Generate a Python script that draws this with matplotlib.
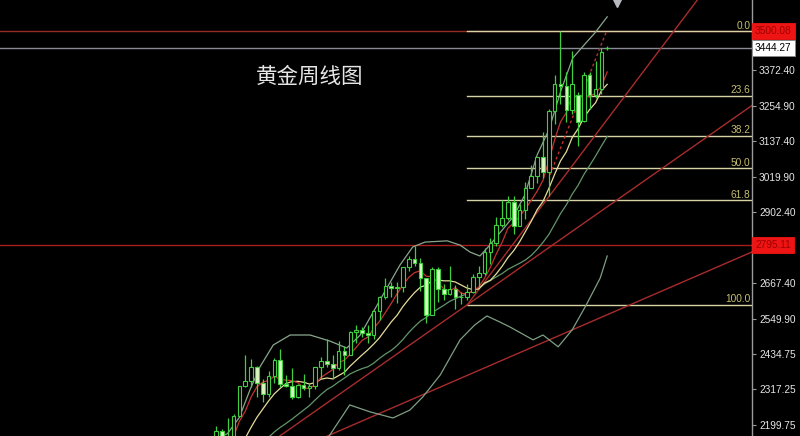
import matplotlib
matplotlib.use('Agg')
import matplotlib.pyplot as plt
import matplotlib.transforms as mtransforms

plt.rcParams['font.family'] = ['Liberation Sans', 'DejaVu Sans']

# weekly gold candles, week of 2024-03-04 .. week of 2025-06-16
opens = [2083, 2179, 2155, 2165, 2230, 2329, 2344, 2391, 2337, 2302,
         2360, 2415, 2334, 2327, 2293, 2333, 2321, 2327, 2391, 2411,
         2400, 2387, 2443, 2431, 2507, 2512, 2503, 2497, 2577, 2621,
         2658, 2653, 2657, 2721, 2747, 2736, 2685, 2564, 2716, 2650,
         2633, 2648, 2622, 2621, 2640, 2690, 2703, 2770, 2800, 2861,
         2882, 2936, 2858, 2910, 2984, 3023, 3084, 3037, 3237, 3327,
         3319, 3240, 3290, 3205, 3357, 3289, 3310, 3444]
highs = [2195, 2185, 2222, 2236, 2330, 2431, 2418, 2393, 2353, 2378,
         2422, 2450, 2364, 2387, 2335, 2368, 2339, 2392, 2424, 2483,
         2432, 2477, 2462, 2509, 2531, 2525, 2529, 2581, 2625, 2685,
         2673, 2672, 2721, 2758, 2790, 2750, 2685, 2721, 2721, 2665,
         2726, 2663, 2639, 2665, 2697, 2725, 2786, 2817, 2886, 2942,
         2955, 2956, 2930, 3004, 3057, 3086, 3167, 3245, 3357, 3500,
         3367, 3435, 3300, 3366, 3366, 3403, 3446, 3452]
lows = [2080, 2146, 2146, 2163, 2228, 2326, 2324, 2291, 2277, 2291,
        2340, 2325, 2325, 2286, 2289, 2316, 2293, 2319, 2353, 2392,
        2353, 2382, 2364, 2431, 2470, 2491, 2472, 2485, 2547, 2615,
        2624, 2604, 2640, 2708, 2725, 2643, 2536, 2564, 2605, 2613,
        2630, 2583, 2600, 2614, 2635, 2657, 2695, 2730, 2790, 2853,
        2877, 2832, 2857, 2880, 2982, 3000, 3015, 2957, 3194, 3260,
        3202, 3228, 3120, 3200, 3245, 3280, 3293, 3440]
closes = [2179, 2155, 2165, 2230, 2329, 2344, 2391, 2337, 2302, 2360,
          2415, 2334, 2327, 2293, 2333, 2321, 2327, 2391, 2411, 2400,
          2387, 2443, 2431, 2507, 2512, 2503, 2497, 2577, 2621, 2658,
          2653, 2657, 2721, 2747, 2736, 2685, 2564, 2716, 2650, 2633,
          2648, 2622, 2621, 2640, 2690, 2703, 2770, 2800, 2861, 2882,
          2936, 2858, 2910, 2984, 3023, 3084, 3037, 3237, 3327, 3319,
          3240, 3325, 3202, 3357, 3289, 3310, 3432, 3444]

# moving averages
ma5 = [2067, 2093, 2123, 2162, 2212, 2245, 2292, 2326, 2341, 2347,
       2361, 2350, 2348, 2346, 2340, 2322, 2320, 2333, 2357, 2370,
       2383, 2406, 2414, 2434, 2456, 2479, 2490, 2519, 2542, 2571,
       2601, 2633, 2662, 2687, 2703, 2709, 2691, 2690, 2670, 2650,
       2642, 2654, 2635, 2633, 2644, 2655, 2685, 2721, 2765, 2803,
       2850, 2867, 2889, 2914, 2942, 2972, 3008, 3073, 3142, 3201,
       3232, 3290, 3283, 3289, 3283, 3297, 3318, 3366]
ma10 = [2051, 2062, 2074, 2094, 2125, 2156, 2192, 2225, 2252, 2279,
        2303, 2321, 2337, 2343, 2344, 2341, 2335, 2340, 2351, 2355,
        2352, 2363, 2374, 2395, 2413, 2431, 2448, 2467, 2488, 2514,
        2540, 2562, 2591, 2615, 2637, 2655, 2662, 2676, 2679, 2676,
        2676, 2672, 2662, 2652, 2647, 2649, 2669, 2678, 2699, 2724,
        2753, 2776, 2805, 2839, 2873, 2911, 2938, 2981, 3028, 3072,
        3102, 3149, 3178, 3215, 3242, 3264, 3304, 3325]
ma20_start = 5
ma20 = [2097, 2113, 2130, 2144, 2159,
        2177, 2192, 2205, 2219, 2234, 2249, 2264, 2283, 2301, 2317,
        2328, 2342, 2355, 2369, 2378, 2386, 2392, 2404, 2420, 2434,
        2446, 2462, 2482, 2505, 2525, 2543, 2555, 2571, 2583, 2595,
        2608, 2617, 2626, 2633, 2642, 2652, 2666, 2677, 2689, 2700,
        2714, 2724, 2734, 2745, 2760, 2780, 2803, 2829, 2863, 2898,
        2927, 2962, 2991, 3027, 3057, 3088, 3121, 3153]

# bollinger bands (bar index, price)
bb_up_x = [0, 2, 4, 5.8, 7.5, 9.8, 12.7, 16.1, 19.5, 22.4, 24.7, 28.1, 31.5,
           33.7, 35.8, 39.6, 41.8, 43.5, 45.2, 46.9, 48.6, 51.0, 52.9, 55.0,
           57.0, 59.1, 61.1, 63.5, 64.9, 67.0]
bb_up = [2150, 2172, 2225, 2315, 2391, 2464, 2497, 2497, 2477, 2454, 2497,
         2613, 2728, 2788, 2804, 2808, 2794, 2771, 2758, 2794, 2834, 2890,
         2960, 3092, 3174, 3306, 3412, 3465, 3495, 3548]
bb_lo_x = [16.9, 19.5, 22.9, 26.4, 30.3, 33.2, 35.4, 38.4, 41.8, 44.3, 46.4,
           48.6, 50.3, 54.3, 56.0, 58.6, 61.0, 63.4, 65.8, 67.0]
bb_lo = [2084, 2167, 2266, 2243, 2223, 2249, 2292, 2365, 2481, 2530, 2560,
         2540, 2524, 2481, 2497, 2458, 2514, 2596, 2685, 2758]

# drawn trend lines (bar index, price)
trend_x = [[10, 92], [17, 92], [43, 83]]
trend_p = [[2151, 3258], [2146, 2773], [2596, 3618]]
dotted_x = [57.2, 66.95]
dotted_p = [3026, 3504]

# horizontal levels
level_top = 3500.08
level_mid = 2795.11
bid = 3444.27

# fibonacci retracement
fib_start = 43
fib_low = 2596
fib_high = 3500.08
fib_ratios = [0.0, 23.6, 38.2, 50.0, 61.8, 100.0]

ytick_vals = [3372.40, 3254.90, 3137.40, 3019.90, 2902.40,
              2667.40, 2549.90, 2434.75, 2317.25, 2199.75]

BG = '#000000'
GREEN = '#3fcf3f'
BEAR_FILL = '#d9f5c2'

fig = plt.figure(figsize=(8, 4.36), dpi=100, facecolor=BG)
ax = fig.add_axes([0, 0, 752 / 800, 1])
ax.set_facecolor(BG)
x_lo, x_hi = -37, 91.8
ax.set_xlim(x_lo, x_hi)
ax.set_ylim(2163.4, 3603.6)

# horizontal lines
ax.axhline(level_top, color='#962c24', lw=1.0, zorder=1)
ax.axhline(level_mid, color='#a81e1e', lw=1.0, zorder=1)
ax.axhline(bid, color='#8a8a96', lw=1.0, zorder=1)

# fibonacci levels
for r in fib_ratios:
    lvl = fib_high - r / 100.0 * (fib_high - fib_low)
    ax.plot([fib_start, x_hi], [lvl, lvl], color='#d8d3a6', lw=1.0, zorder=1)
    ax.text(x_hi - 0.3, lvl + 2, f'{r:.1f}', color='#c8bf6e', fontsize=7.3,
            ha='right', va='bottom', zorder=6)

# trend lines
for xs, ps in zip(trend_x, trend_p):
    ax.plot(xs, ps, color='#a82c2c', lw=1.0, zorder=1)
ax.plot(dotted_x, dotted_p, color='#c03030', lw=1.0, ls=(0, (2, 2)), zorder=2)

# indicators
xs = list(range(len(closes)))
ax.plot(bb_up_x, bb_up, color='#8aa78e', lw=0.9, zorder=2)
ax.plot(bb_lo_x, bb_lo, color='#7e9f84', lw=0.9, zorder=2)
ax.plot(list(range(ma20_start, ma20_start + len(ma20))), ma20, color='#62966a', lw=0.9, zorder=2)
ax.plot(xs, ma10, color='#e6dc9a', lw=0.9, zorder=2)
ax.plot(xs, ma5, color='#c43232', lw=0.9, zorder=2)

# candles
w = 0.62
for i, (o, h, l, c) in enumerate(zip(opens, highs, lows, closes)):
    ax.vlines(i, l, h, color=GREEN, lw=0.9, zorder=3)
    bottom = min(o, c)
    height = max(abs(c - o), 1.0)
    if c > o:
        face = BG
    elif c < o:
        face = BEAR_FILL
    else:
        face = GREEN
    ax.bar(i, height, w, bottom=bottom, color=face, edgecolor=GREEN,
           linewidth=0.8, zorder=4)

# chart-shift marker
ax.plot([68.7], [0.992], marker='v', color='#b8b8c0', markersize=6,
        transform=mtransforms.blended_transform_factory(ax.transData, ax.transAxes),
        clip_on=False, zorder=6)

# axes styling
for side in ['top', 'left', 'bottom']:
    ax.spines[side].set_visible(False)
ax.spines['right'].set_color('#9a9a9a')
ax.spines['right'].set_linewidth(1.0)
ax.set_xticks([])
ax.yaxis.tick_right()
ax.set_yticks(ytick_vals)
ax.set_yticklabels([f'{v:.2f}' for v in ytick_vals])
ax.tick_params(axis='y', colors='#9a9a9a', labelcolor='#e6e6e6',
               length=3, width=0.8, pad=2, labelsize=7.3)

# price boxes on the right scale
blend = mtransforms.blended_transform_factory(ax.transAxes, ax.transData)
for val, fc, tc, ec in [(level_top, '#ee1414', '#a00000', '#ee1414'),
                        (bid, '#ffffff', '#000000', '#8a8a8a'),
                        (level_mid, '#ee1414', '#a00000', '#ee1414')]:
    ax.text(1.004, val, f'{val:.2f}', transform=blend, fontsize=7.3, color=tc,
            ha='left', va='center', zorder=10, clip_on=False,
            bbox=dict(boxstyle='square,pad=0.3', fc=fc, ec=ec, lw=0.6))

fig.text(310 / 800, 1 - 77 / 436, '黄金周线图', fontsize=15.5, color='#e6e6e6',
         family=['Noto Sans CJK SC', 'DejaVu Sans'], ha='center', va='center')

fig.savefig('out.png', dpi=100, facecolor=BG)
